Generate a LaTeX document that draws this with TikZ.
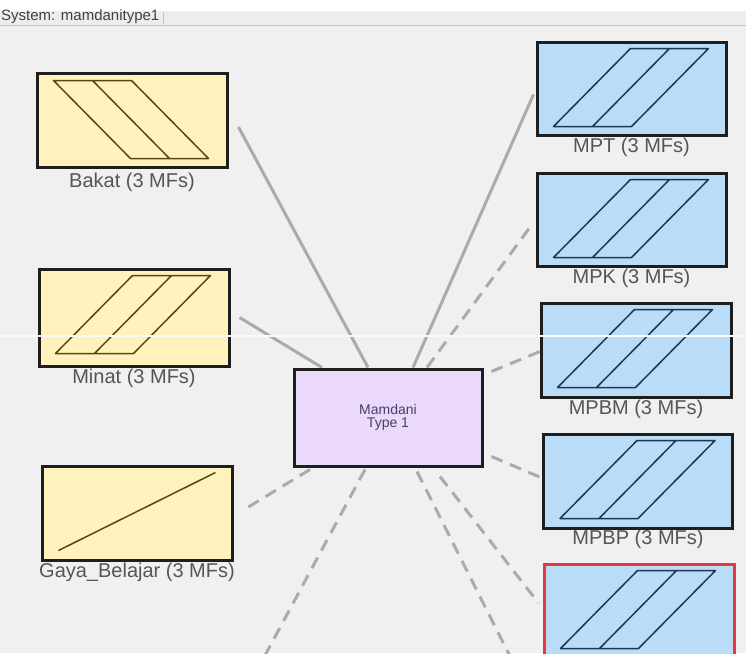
\documentclass[tikz,border=0pt]{standalone}
\usepackage{fontspec}
\setmainfont{Liberation Sans}
\usetikzlibrary{positioning, calc}
\definecolor{bgGrey}{HTML}{F0F0F0}
\definecolor{barGrey}{HTML}{EDEDED}
\definecolor{barLine}{HTML}{C4C4C4}
\definecolor{boxLine}{HTML}{1E1E1E}
\definecolor{inYellow}{HTML}{FFF2BC}
\definecolor{outBlue}{HTML}{B9DCF8}
\definecolor{rulePurple}{HTML}{EAD9FB}
\definecolor{selRed}{HTML}{E8383A}
\definecolor{mfYellow}{HTML}{56480F}
\definecolor{mfBlue}{HTML}{1F3652}
\definecolor{wireGrey}{HTML}{ABABAB}
\definecolor{lblGrey}{HTML}{555555}
\definecolor{ruleText}{HTML}{4B3C6C}
\pgfdeclarelayer{bg}
\pgfsetlayers{bg,main}
\tikzset{
  inbox/.style   = {draw=boxLine, line width=3pt, fill=inYellow, inner sep=0pt,
                    minimum width=190pt, minimum height=94pt},
  outbox/.style  = {inbox, fill=outBlue, minimum width=189pt, minimum height=93pt},
  rulebox/.style = {inbox, fill=rulePurple, minimum width=188pt, minimum height=97pt,
                    align=center, text=ruleText, font=\fontsize{14}{12.5}\selectfont},
  wire/.style    = {wireGrey, line width=3pt},
  dwire/.style   = {wire, dash pattern=on 12pt off 8pt},
  lbl/.style     = {font=\fontsize{20}{22}\selectfont, text=lblGrey, inner sep=0pt},
  mfy/.style     = {mfYellow, line width=1.5pt, line join=round},
  mfb/.style     = {mfBlue, line width=1.5pt, line join=round},
}
\begin{document}
\begin{tikzpicture}[x=1pt,y=-1pt]
  \useasboundingbox (0,0) rectangle (746,653);
  \node[anchor=west, inner sep=0pt, text=black!75, font=\fontsize{15}{16}\selectfont] (sys) at (1,17) {System: mamdanitype1};
  % inputs
  \node[inbox] (bakat) at (132,120) {};
  \node[inbox, minimum height=97pt] (minat) at (134,317.5) {};
  \node[inbox] (gaya) at (137,513) {};
  \node[lbl, below=4pt of bakat] (bakatlbl) {Bakat (3 MFs)};
  \node[lbl, below=1pt of minat] (minatlbl) {Minat (3 MFs)};
  \node[lbl, below=1pt of gaya] (gayalbl) {Gaya\_Belajar (3 MFs)};
  % rule block
  \node[rulebox] (mamdani) at (388,417.5) {Mamdani\\Type 1};
  % outputs
  \node[outbox] (mpt) at (631.5,88.5) {};
  \node[outbox] (mpk) at (631.5,219.5) {};
  \node[outbox, minimum width=190pt, minimum height=94pt] (mpbm) at (636,350) {};
  \node[outbox, minimum height=94pt] (mpbp) at (638,481) {};
  \node[outbox, draw=selRed, minimum width=190pt, minimum height=94pt] (mpx) at (639,611) {};
  \node[lbl, below=1pt of mpt] (mptlbl) {MPT (3 MFs)};
  \node[lbl, below=1pt of mpk] (mpklbl) {MPK (3 MFs)};
  \node[lbl, below=1pt of mpbm] (mpbmlbl) {MPBM (3 MFs)};
  \node[lbl, below=0pt of mpbp] (mpbplbl) {MPBP (3 MFs)};
  % membership functions
  \draw[mfy, shift={(bakat.north west)}] (18,9) -- (96,9) -- (173,87) -- (95,87) -- cycle (57,9) -- (134,87);
  \draw[mfy, shift={(gaya.north west)}] (18,86) -- (175,8);
  \foreach \b/\s in {minat/mfy, mpt/mfb, mpk/mfb, mpbm/mfb, mpbp/mfb, mpx/mfb}
    \draw[\s, shift={(\b.north west)}] (18,86) -- (95,8) -- (173,8) -- (96,86) -- cycle (57,86) -- (134,8);
  \coordinate (offL) at (241,700);
  \coordinate (offR) at (532,700);
  \begin{pgfonlayer}{bg}
    \fill[white] (0,0) rectangle (746,11);
    \fill[barGrey] (0,11) rectangle (746,25);
    \fill[bgGrey] (0,25) rectangle (746,653);
    \draw[barLine, line width=1.2pt] (0,25.5) -- (746,25.5);
    \draw[barLine] (163,12) -- (163,24);
    % connectors
    \draw[wire] ($(mamdani.north)+(-20,0)$) -- ($(bakat.east)+(10,7)$);
    \draw[wire] ($(mamdani.north)+(-66,0)$) -- ($(minat.east)+(9,0)$);
    \draw[wire] ($(mamdani.north)+(25,0)$) -- ($(mpt.west)+(-2,6)$);
    \draw[dwire] ($(mamdani.north)+(39,0)$) -- ($(mpk.west)+(-2,3)$);
    \draw[dwire] ($(mamdani.north east)+(8,4)$) -- ($(mpbm.west)+(4,0)$);
    \draw[dwire] ($(mamdani.south east)+(8,-11)$) -- ($(mpbp.west)+(0,-3)$);
    \draw[dwire] ($(mamdani.south)+(52,9)$) -- ($(mpx.west)+(-4,-8)$);
    \draw[dwire] ($(mamdani.south)+(-78,2)$) -- ($(gaya.east)+(10,-3)$);
    \draw[dwire] ($(mamdani.south)+(-23,2)$) -- (offL);
    \draw[dwire] ($(mamdani.south)+(29,4)$) -- (offR);
  \end{pgfonlayer}
  % screenshot seam
  \draw[white!60!bgGrey, line width=1.5pt] (0,336) -- (746,336);
\end{tikzpicture}
\end{document}
